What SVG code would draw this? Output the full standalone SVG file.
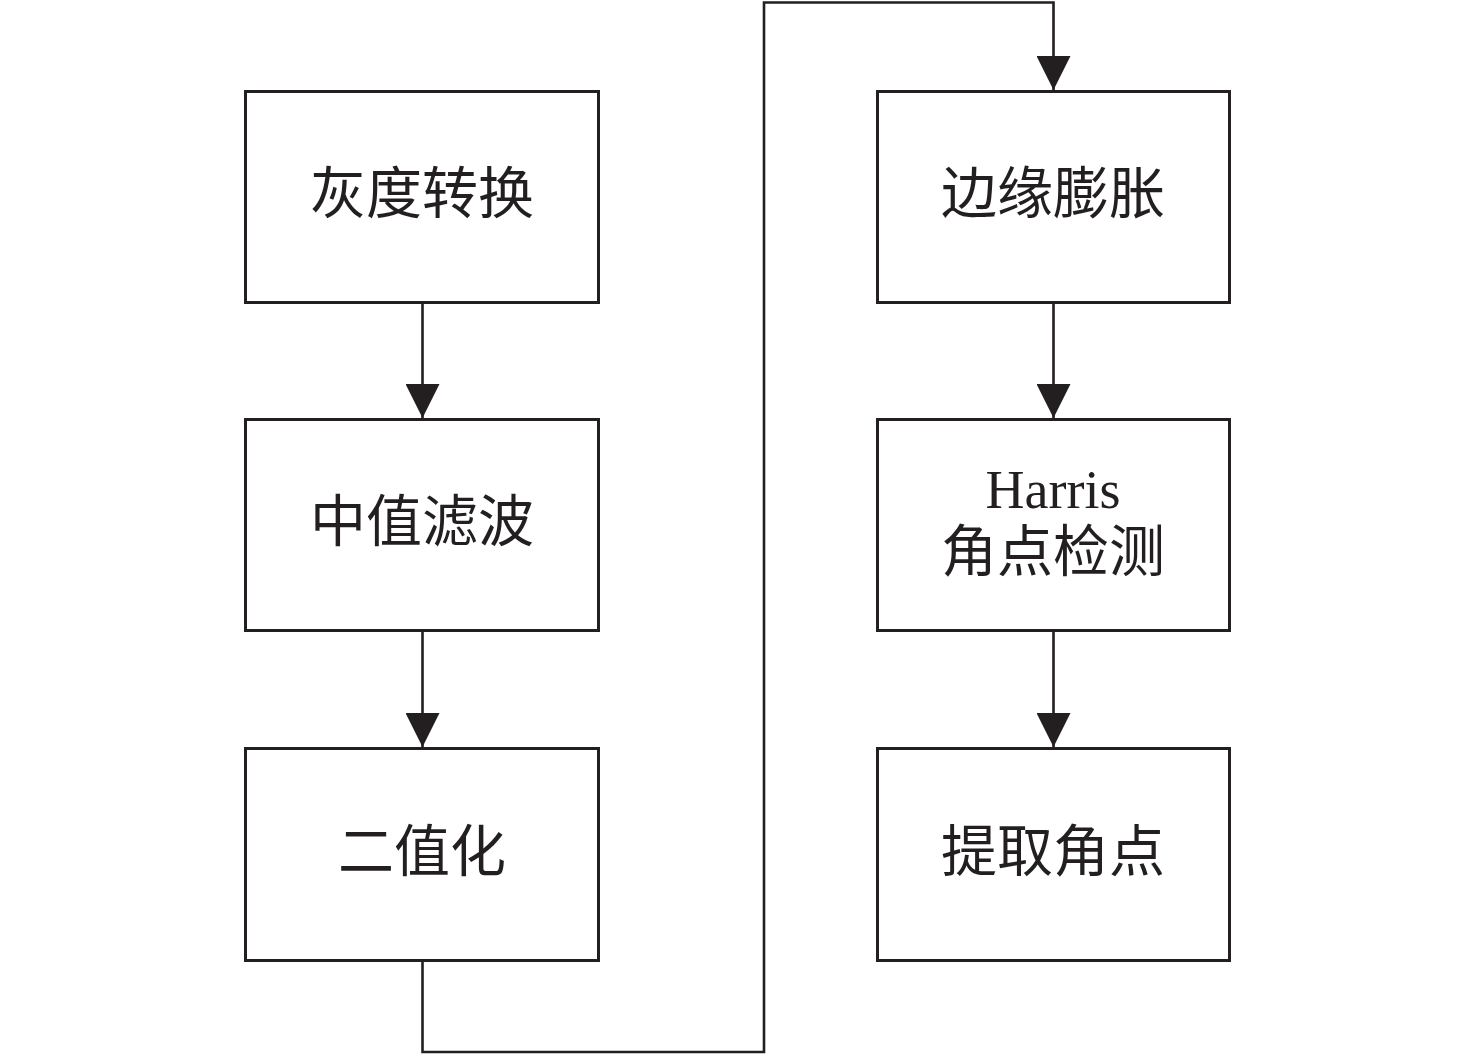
<svg xmlns="http://www.w3.org/2000/svg" width="1476" height="1056" viewBox="0 0 1476 1056">
<defs>
<style>
.box{fill:#fff;stroke:#231f20;stroke-width:3}
.ln{fill:none;stroke:#231f20;stroke-width:2.6}
.t{font-family:"Liberation Serif","Noto Sans CJK SC",serif;font-size:56px;fill:#231f20;text-anchor:middle;dominant-baseline:central}
.e{font-size:54px}
</style>
<marker id="ah" markerUnits="userSpaceOnUse" markerWidth="36" markerHeight="34" refX="34" refY="17" orient="auto" viewBox="0 0 34 34">
<path d="M0,0 L34,17 L0,34 Z" fill="#231f20"/>
</marker>
</defs>
<rect width="1476" height="1056" fill="#fff"/>
<g id="connectors">
<path class="ln" d="M422.5 303 V418" marker-end="url(#ah)"/>
<path class="ln" d="M422.5 631 V747" marker-end="url(#ah)"/>
<path class="ln" d="M422.5 961 V1052 H764 V2.5 H1053.5 V90" marker-end="url(#ah)"/>
<path class="ln" d="M1053.5 303 V418" marker-end="url(#ah)"/>
<path class="ln" d="M1053.5 631 V747" marker-end="url(#ah)"/>
</g>
<g id="n1"><rect class="box" x="245.5" y="91.5" width="353" height="211"/><text class="t" x="422" y="194">灰度转换</text></g>
<g id="n2"><rect class="box" x="245.5" y="419.5" width="353" height="211"/><text class="t" x="422" y="522">中值滤波</text></g>
<g id="n3"><rect class="box" x="245.5" y="748.5" width="353" height="212"/><text class="t" x="422" y="852">二值化</text></g>
<g id="n4"><rect class="box" x="877.5" y="91.5" width="352" height="211"/><text class="t" x="1053" y="194">边缘膨胀</text></g>
<g id="n5"><rect class="box" x="877.5" y="419.5" width="352" height="211"/><text class="t e" x="1053" y="490">Harris</text><text class="t" x="1053" y="552">角点检测</text></g>
<g id="n6"><rect class="box" x="877.5" y="748.5" width="352" height="212"/><text class="t" x="1053" y="852">提取角点</text></g>
</svg>
